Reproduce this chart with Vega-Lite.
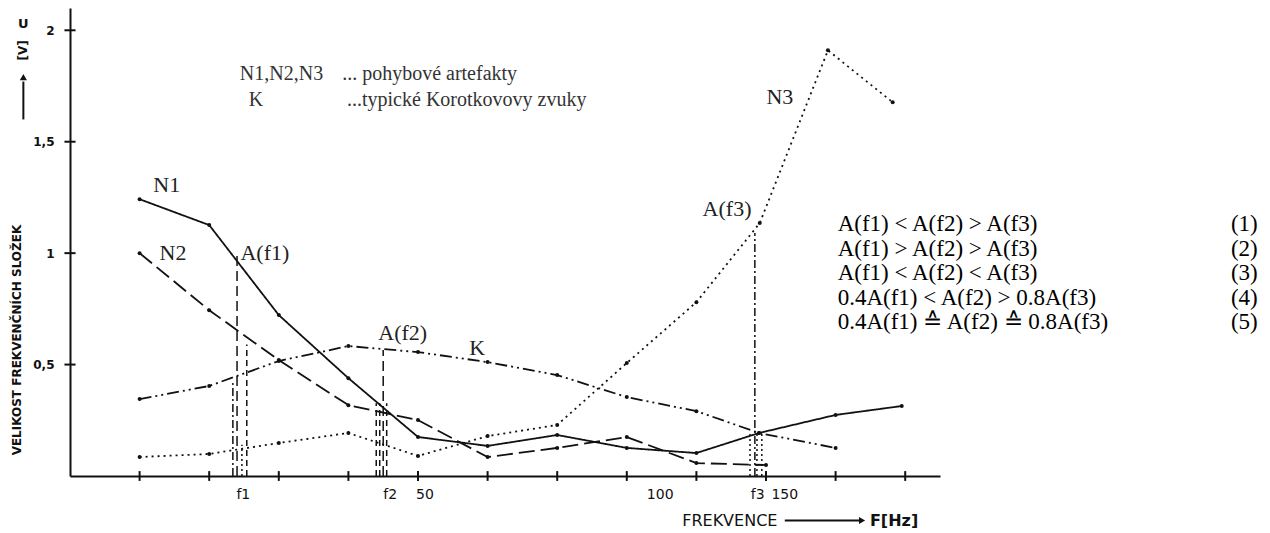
{
  "$schema": "https://vega.github.io/schema/vega-lite/v6.json",
  "width": 870,
  "height": 468,
  "autosize": {"type": "none"},
  "padding": {"left": 70, "top": 8, "right": 330, "bottom": 57},
  "background": "white",
  "config": {"view": {"stroke": null}},
  "resolve": {"scale": {"strokeDash": "independent", "shape": "independent"}},
  "datasets": {
    "curves": [
      {"series": "N1", "x": 1, "y": 1.242}, {"series": "N1", "x": 2, "y": 1.126}, {"series": "N1", "x": 3, "y": 0.722},
      {"series": "N1", "x": 4, "y": 0.439}, {"series": "N1", "x": 5, "y": 0.175}, {"series": "N1", "x": 6, "y": 0.135},
      {"series": "N1", "x": 7, "y": 0.184}, {"series": "N1", "x": 8, "y": 0.126}, {"series": "N1", "x": 9, "y": 0.103},
      {"series": "N1", "x": 9.9, "y": 0.193}, {"series": "N1", "x": 11, "y": 0.274}, {"series": "N1", "x": 11.95, "y": 0.314},
      {"series": "N2", "x": 1, "y": 1.0}, {"series": "N2", "x": 2, "y": 0.744}, {"series": "N2", "x": 3, "y": 0.52},
      {"series": "N2", "x": 4, "y": 0.318}, {"series": "N2", "x": 5, "y": 0.251}, {"series": "N2", "x": 6, "y": 0.085},
      {"series": "N2", "x": 7, "y": 0.126}, {"series": "N2", "x": 8, "y": 0.175}, {"series": "N2", "x": 9, "y": 0.058},
      {"series": "N2", "x": 10, "y": 0.049},
      {"series": "K", "x": 1, "y": 0.345}, {"series": "K", "x": 2, "y": 0.404}, {"series": "K", "x": 3, "y": 0.516},
      {"series": "K", "x": 4, "y": 0.583}, {"series": "K", "x": 5, "y": 0.556}, {"series": "K", "x": 6, "y": 0.511},
      {"series": "K", "x": 7, "y": 0.453}, {"series": "K", "x": 8, "y": 0.354}, {"series": "K", "x": 9, "y": 0.291},
      {"series": "K", "x": 9.9, "y": 0.193}, {"series": "K", "x": 11, "y": 0.126},
      {"series": "N3", "x": 1, "y": 0.085}, {"series": "N3", "x": 2, "y": 0.099}, {"series": "N3", "x": 3, "y": 0.148},
      {"series": "N3", "x": 4, "y": 0.193}, {"series": "N3", "x": 5, "y": 0.09}, {"series": "N3", "x": 6, "y": 0.179},
      {"series": "N3", "x": 7, "y": 0.229}, {"series": "N3", "x": 8, "y": 0.507}, {"series": "N3", "x": 9, "y": 0.78},
      {"series": "N3", "x": 9.91, "y": 1.135}, {"series": "N3", "x": 10.89, "y": 1.91}, {"series": "N3", "x": 11.82, "y": 1.677}
    ],
    "markers": [
      {"x": 2.34, "y": 0, "y2": 0.43, "style": "dashdot"},
      {"x": 2.4, "y": 0, "y2": 1.0, "style": "long"},
      {"x": 2.47, "y": 0, "y2": 0.14, "style": "dot"},
      {"x": 2.54, "y": 0, "y2": 0.59, "style": "short"},
      {"x": 4.4, "y": 0, "y2": 0.327, "style": "short"},
      {"x": 4.45, "y": 0, "y2": 0.327, "style": "short"},
      {"x": 4.5, "y": 0, "y2": 0.565, "style": "long"},
      {"x": 4.55, "y": 0, "y2": 0.327, "style": "short"},
      {"x": 9.77, "y": 0, "y2": 0.19, "style": "dot"},
      {"x": 9.84, "y": 0, "y2": 1.09, "style": "dashdot"},
      {"x": 9.87, "y": 0, "y2": 0.19, "style": "dot"},
      {"x": 9.94, "y": 0, "y2": 0.19, "style": "dot"}
    ],
    "ticks": [
      {"x": 1, "x2": 1, "y": -0.022, "y2": 0.022}, {"x": 2, "x2": 2, "y": -0.022, "y2": 0.022},
      {"x": 3, "x2": 3, "y": -0.022, "y2": 0.022}, {"x": 4, "x2": 4, "y": -0.022, "y2": 0.022},
      {"x": 5, "x2": 5, "y": -0.022, "y2": 0.022}, {"x": 6, "x2": 6, "y": -0.022, "y2": 0.022},
      {"x": 7, "x2": 7, "y": -0.022, "y2": 0.022}, {"x": 8, "x2": 8, "y": -0.022, "y2": 0.022},
      {"x": 9, "x2": 9, "y": -0.022, "y2": 0.022}, {"x": 10, "x2": 10, "y": -0.022, "y2": 0.022},
      {"x": 11, "x2": 11, "y": -0.022, "y2": 0.022}, {"x": 12, "x2": 12, "y": -0.022, "y2": 0.022},
      {"x": -0.08, "x2": 0.08, "y": 0.5, "y2": 0.5}, {"x": -0.08, "x2": 0.08, "y": 1, "y2": 1},
      {"x": -0.08, "x2": 0.08, "y": 1.5, "y2": 1.5}, {"x": -0.08, "x2": 0.08, "y": 2, "y2": 2},
      {"x": 10.27, "x2": 11.36, "y": -0.2, "y2": -0.2},
      {"x": -0.67, "x2": -0.67, "y": 1.6, "y2": 1.77}
    ],
    "serif": [
      {"x": 1.39, "y": 1.306, "text": "N1"},
      {"x": 1.48, "y": 1.0, "text": "N2"},
      {"x": 2.8, "y": 1.0, "text": "A(f1)"},
      {"x": 4.78, "y": 0.641, "text": "A(f2)"},
      {"x": 5.85, "y": 0.575, "text": "K"},
      {"x": 9.44, "y": 1.197, "text": "A(f3)"},
      {"x": 10.2, "y": 1.7, "text": "N3"}
    ],
    "legend": [
      {"x": 2.44, "y": 1.803, "text": "N1,N2,N3"},
      {"x": 3.91, "y": 1.803, "text": "... pohybové artefakty"},
      {"x": 2.57, "y": 1.686, "text": "K"},
      {"x": 3.98, "y": 1.686, "text": "...typické Korotkovovy zvuky"}
    ],
    "eqs": [
      {"x": 11.03, "y": 1.13, "text": "A(f1) < A(f2) > A(f3)"},
      {"x": 11.03, "y": 1.02, "text": "A(f1) > A(f2) > A(f3)"},
      {"x": 11.03, "y": 0.91, "text": "A(f1) < A(f2) < A(f3)"},
      {"x": 11.03, "y": 0.8, "text": "0.4A(f1) < A(f2) > 0.8A(f3)"},
      {"x": 11.03, "y": 0.69, "text": "0.4A(f1) ≙ A(f2) ≙ 0.8A(f3)"},
      {"x": 16.68, "y": 1.13, "text": "(1)"},
      {"x": 16.68, "y": 1.02, "text": "(2)"},
      {"x": 16.68, "y": 0.91, "text": "(3)"},
      {"x": 16.68, "y": 0.8, "text": "(4)"},
      {"x": 16.68, "y": 0.69, "text": "(5)"}
    ],
    "sans": [
      {"x": 2.49, "y": -0.085, "text": "f1"},
      {"x": 4.6, "y": -0.085, "text": "f2"},
      {"x": 5.1, "y": -0.085, "text": "50"},
      {"x": 8.48, "y": -0.085, "text": "100"},
      {"x": 9.88, "y": -0.085, "text": "f3"},
      {"x": 10.27, "y": -0.085, "text": "150"}
    ]
  },
  "layer": [
    {
      "data": {"name": "markers"},
      "mark": {"type": "rule", "strokeWidth": 1.5, "color": "#111"},
      "encoding": {
        "x": {"field": "x", "type": "quantitative", "scale": {"domain": [0, 12.5], "nice": false, "zero": false},
              "axis": {"values": [1,2,3,4,5,6,7,8,9,10,11,12], "labels": false, "ticks": false, "grid": false, "title": null, "domainWidth": 2, "domainColor": "#111"}},
        "y": {"field": "y", "type": "quantitative", "scale": {"domain": [0, 2.1], "nice": false},
              "axis": {"values": [0.5, 1, 1.5, 2], "ticks": false, "grid": false, "title": null, "domainWidth": 2, "domainColor": "#111",
                       "labelExpr": "datum.value == 0.5 ? '0,5' : datum.value == 1.5 ? '1,5' : datum.value == 1 ? '1' : '2'",
                       "labelPadding": 16, "labelFont": "DejaVu Sans", "labelFontWeight": "bold", "labelFontSize": 12, "labelColor": "#111"}},
        "y2": {"field": "y2"},
        "strokeDash": {"field": "style", "type": "nominal", "legend": null,
                       "scale": {"domain": ["long", "short", "dot", "dashdot"], "range": [[10, 5], [6, 4], [2, 3], [8, 3, 2, 3]]}}
      }
    },
    {
      "data": {"name": "curves"},
      "mark": {"type": "line", "strokeWidth": 1.8, "color": "#111"},
      "encoding": {
        "x": {"field": "x", "type": "quantitative"},
        "y": {"field": "y", "type": "quantitative"},
        "detail": {"field": "series"},
        "strokeDash": {"field": "series", "type": "nominal", "legend": null,
                       "scale": {"domain": ["N1", "N2", "K", "N3"], "range": [[1, 0], [16, 6], [12, 4, 2, 4, 2, 4], [2, 4]]}}
      }
    },
    {
      "data": {"name": "curves"},
      "mark": {"type": "circle", "size": 16, "color": "#111", "opacity": 1},
      "encoding": {
        "x": {"field": "x", "type": "quantitative"},
        "y": {"field": "y", "type": "quantitative"}
      }
    },
    {
      "data": {"name": "ticks"},
      "mark": {"type": "rule", "strokeWidth": 2, "color": "#111"},
      "encoding": {
        "x": {"field": "x", "type": "quantitative"},
        "x2": {"field": "x2"},
        "y": {"field": "y", "type": "quantitative"},
        "y2": {"field": "y2"}
      }
    },
    {
      "data": {"values": [{"x": 11.38, "y": -0.2, "shape": "triangle-right"}, {"x": -0.67, "y": 1.79, "shape": "triangle-up"}]},
      "mark": {"type": "point", "filled": true, "size": 50, "color": "#111", "opacity": 1},
      "encoding": {
        "x": {"field": "x", "type": "quantitative"},
        "y": {"field": "y", "type": "quantitative"},
        "shape": {"field": "shape", "type": "nominal", "scale": null, "legend": null}
      }
    },
    {
      "data": {"name": "serif"},
      "mark": {"type": "text", "font": "Liberation Serif", "fontSize": 22, "color": "#222", "align": "center", "baseline": "middle"},
      "encoding": {
        "x": {"field": "x", "type": "quantitative"},
        "y": {"field": "y", "type": "quantitative"},
        "text": {"field": "text"}
      }
    },
    {
      "data": {"name": "legend"},
      "mark": {"type": "text", "font": "Liberation Serif", "fontSize": 20, "color": "#333", "align": "left", "baseline": "middle"},
      "encoding": {
        "x": {"field": "x", "type": "quantitative"},
        "y": {"field": "y", "type": "quantitative"},
        "text": {"field": "text"}
      }
    },
    {
      "data": {"name": "eqs"},
      "mark": {"type": "text", "font": "Liberation Serif", "fontSize": 23, "color": "#000", "align": "left", "baseline": "middle"},
      "encoding": {
        "x": {"field": "x", "type": "quantitative"},
        "y": {"field": "y", "type": "quantitative"},
        "text": {"field": "text"}
      }
    },
    {
      "data": {"name": "sans"},
      "mark": {"type": "text", "font": "DejaVu Sans", "fontSize": 14, "color": "#111", "align": "center", "baseline": "middle"},
      "encoding": {
        "x": {"field": "x", "type": "quantitative"},
        "y": {"field": "y", "type": "quantitative"},
        "text": {"field": "text"}
      }
    },
    {
      "data": {"values": [{"x": 9.48, "y": -0.2, "text": "FREKVENCE"}]},
      "mark": {"type": "text", "font": "DejaVu Sans", "fontSize": 16, "color": "#111", "align": "center", "baseline": "middle"},
      "encoding": {
        "x": {"field": "x", "type": "quantitative"},
        "y": {"field": "y", "type": "quantitative"},
        "text": {"field": "text"}
      }
    },
    {
      "data": {"values": [{"x": 11.84, "y": -0.2, "text": "F[Hz]"}]},
      "mark": {"type": "text", "font": "DejaVu Sans", "fontSize": 16, "fontWeight": "bold", "color": "#111", "align": "center", "baseline": "middle"},
      "encoding": {
        "x": {"field": "x", "type": "quantitative"},
        "y": {"field": "y", "type": "quantitative"},
        "text": {"field": "text"}
      }
    },
    {
      "data": {"values": [{"x": -0.76, "y": 0.61, "text": "VELIKOST FREKVENČNÍCH SLOŽEK"}, {"x": -0.67, "y": 1.91, "text": "[V]"}]},
      "mark": {"type": "text", "font": "DejaVu Sans", "fontSize": 12, "fontWeight": "bold", "color": "#111", "angle": 270, "align": "center", "baseline": "middle"},
      "encoding": {
        "x": {"field": "x", "type": "quantitative"},
        "y": {"field": "y", "type": "quantitative"},
        "text": {"field": "text"}
      }
    },
    {
      "data": {"values": [{"x": -0.67, "y": 2.03, "text": "U"}]},
      "mark": {"type": "text", "font": "DejaVu Sans", "fontSize": 13, "fontWeight": "bold", "color": "#111", "align": "center", "baseline": "middle"},
      "encoding": {
        "x": {"field": "x", "type": "quantitative"},
        "y": {"field": "y", "type": "quantitative"},
        "text": {"field": "text"}
      }
    }
  ]
}
